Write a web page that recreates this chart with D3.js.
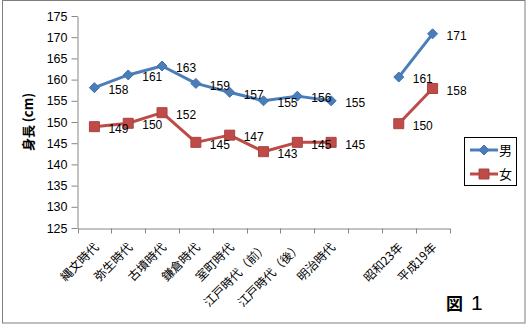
<!DOCTYPE html>
<html><head><meta charset="utf-8">
<script src="https://cdn.jsdelivr.net/npm/d3@7"></script>
<style>
html,body{margin:0;padding:0;background:#fff;}
svg{display:block;font-family:"Liberation Sans","Noto Sans CJK JP",sans-serif;}
</style></head>
<body>
<svg id="c" width="528" height="326"></svg>
<script>
const categories = ["縄文時代","弥生時代","古墳時代","鎌倉時代","室町時代","江戸時代（前）","江戸時代（後）","明治時代","","昭和23年","平成19年"];
const maleValues = [158.1, 161.1, 163.2, 159.1, 157.0, 155.0, 156.1, 155.0, null, 160.6, 170.8];
const femaleValues = [148.9, 149.7, 152.2, 145.2, 146.9, 143.0, 145.2, 145.2, null, 149.6, 157.9];
const yTicks = [125,130,135,140,145,150,155,160,165,170,175];
const seriesNames = ["男","女"];

(function(){
const svg = d3.select("#c");
const pLeft = 77.5, pRight = 449.5, pTop = 16, pBottom = 228;

svg.append("rect").attr("x",2.5).attr("y",0.5).attr("width",522.5).attr("height",322.5)
  .attr("fill","#fff").attr("stroke","#7f7f7f").attr("stroke-width",1);

const x = d3.scaleBand().domain(d3.range(categories.length)).range([pLeft,pRight]);
const y = d3.scaleLinear().domain([125,175]).range([pBottom,pTop]);

// y axis
const ya = svg.append("g").attr("transform",`translate(${pLeft},0)`)
  .call(d3.axisLeft(y).tickValues(yTicks).tickSize(6).tickSizeOuter(0).tickPadding(4));
ya.select(".domain").attr("stroke","#868686");
ya.selectAll(".tick line").attr("stroke","#868686");
ya.selectAll("text").attr("font-size",12.5).attr("fill","#000").attr("font-family","Liberation Sans, sans-serif");

// x axis
const xa = svg.append("g").attr("transform",`translate(0,${pBottom+0.5})`)
  .call(d3.axisBottom(x).tickSize(0).tickSizeOuter(0).tickFormat(""));
xa.select(".domain").attr("stroke","#868686");
xa.selectAll(".tick").remove();
const edges = d3.range(categories.length+1).map(i => i < categories.length ? x(i) : x(categories.length-1)+x.bandwidth());
xa.selectAll("line.tk").data(edges).enter().append("line").attr("class","tk")
  .attr("x1",d=>Math.round(d)+0.5).attr("x2",d=>Math.round(d)+0.5).attr("y1",0).attr("y2",5)
  .attr("stroke","#868686");

svg.append("g").selectAll("text").data(categories).enter().append("text")
  .attr("transform",(d,i)=>`translate(${x(i)+x.bandwidth()/2+2},${pBottom+17}) rotate(-45)`)
  .attr("text-anchor","end").attr("dy","0.35em")
  .attr("font-size",12).attr("font-family","Noto Sans CJK JP, sans-serif").attr("fill","#000")
  .text(d=>d);

// y title
svg.append("text").attr("transform","translate(28,122) rotate(-90)")
  .attr("text-anchor","middle").attr("dy","0.35em").attr("font-size",13).attr("font-weight","bold")
  .attr("font-family","Noto Sans CJK JP, sans-serif").text("身長 (cm)");

const cx = i => x(i)+x.bandwidth()/2;
const line = d3.line().defined(d=>d!=null).x((d,i)=>cx(i)).y(d=>y(d));

function drawSeries(vals, color, marker){
  const g = svg.append("g");
  g.append("path").datum(vals).attr("d",line).attr("fill","none").attr("stroke",color).attr("stroke-width",3).attr("stroke-linejoin","round");
  const pts = vals.map((v,i)=>({v,i})).filter(d=>d.v!=null);
  g.selectAll("path.m").data(pts).enter().append("path").attr("class","m")
    .attr("transform",d=>`translate(${cx(d.i)},${y(d.v)})`)
    .attr("d",marker).attr("fill",color).attr("stroke",d3.color(color).darker(0.3));
  g.selectAll("text").data(pts).enter().append("text")
    .attr("x",d=>cx(d.i)+14).attr("y",d=>y(d.v)+2).attr("dy","0.35em")
    .attr("font-size",12).attr("fill","#000").text(d=>Math.round(d.v));
}
const diamond = "M0,-5L5,0L0,5L-5,0Z";
const square = "M-5,-5H5V5H-5Z";
drawSeries(maleValues,"#4a7ebb",diamond);
drawSeries(femaleValues,"#be4b48",square);

// legend
const lg = svg.append("g");
lg.append("rect").attr("x",464.5).attr("y",137.5).attr("width",52).attr("height",48).attr("fill","#fff").attr("stroke","#000");
[["#4a7ebb",diamond,150],["#be4b48",square,174]].forEach((d,i)=>{
  lg.append("line").attr("x1",470).attr("x2",498).attr("y1",d[2]).attr("y2",d[2]).attr("stroke",d[0]).attr("stroke-width",3);
  lg.append("path").attr("transform",`translate(484,${d[2]})`).attr("d",d[1]).attr("fill",d[0]).attr("stroke",d3.color(d[0]).darker(0.3));
  lg.append("text").attr("x",499).attr("y",d[2]).attr("dy","0.35em").attr("font-size",13)
    .attr("font-family","Noto Sans CJK JP, sans-serif").text(seriesNames[i]);
});

const fig = svg.append("text").attr("x",446).attr("y",310).attr("fill","#000");
fig.append("tspan").attr("font-size",17).attr("font-weight","bold").attr("font-family","Noto Sans CJK JP, sans-serif").text("図");
fig.append("tspan").attr("x",471).attr("font-size",21).attr("font-family","Liberation Sans, sans-serif").text("1");
})();
</script>
</body></html>
